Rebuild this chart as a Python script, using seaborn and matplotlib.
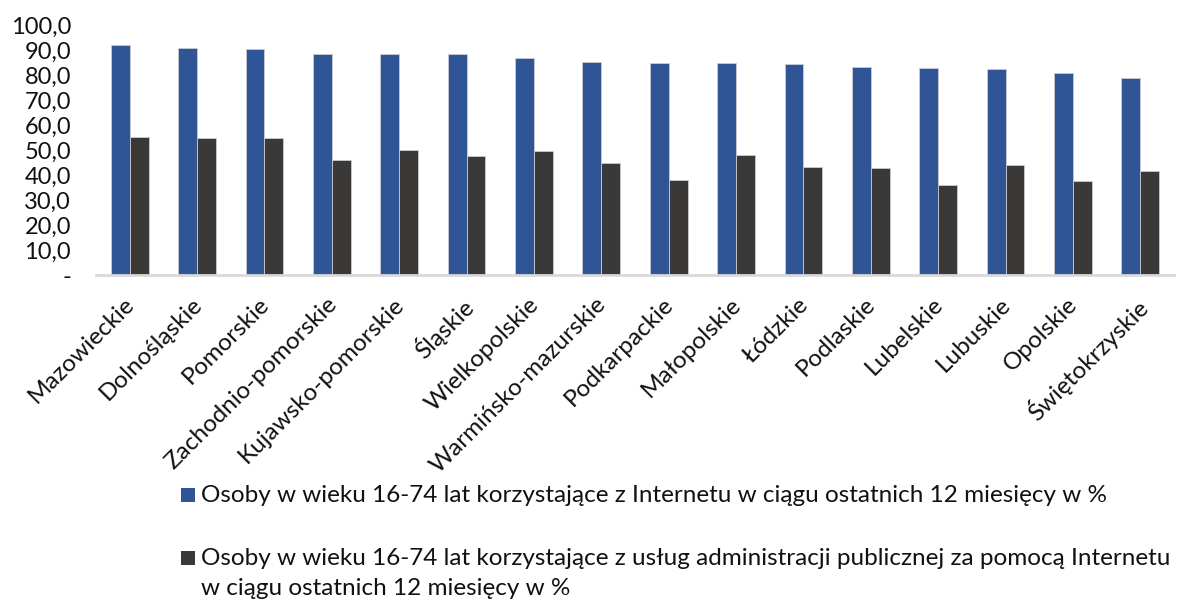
import matplotlib
matplotlib.use("Agg")
import matplotlib.pyplot as plt
from matplotlib.patches import Rectangle
from matplotlib.transforms import ScaledTranslation
import seaborn as sns
import pandas as pd

regions = ["Mazowieckie", "Dolnośląskie", "Pomorskie", "Zachodnio-pomorskie",
           "Kujawsko-pomorskie", "Śląskie", "Wielkopolskie", "Warmińsko-mazurskie",
           "Podkarpackie", "Małopolskie", "Łódzkie", "Podlaskie", "Lubelskie",
           "Lubuskie", "Opolskie", "Świętokrzyskie"]
internet_users = [92.1, 90.9, 90.4, 88.6, 88.5, 88.5, 86.9, 85.2,
                  84.8, 84.8, 84.5, 83.4, 82.9, 82.4, 80.8, 78.7]
egov_users = [55.4, 54.7, 55.0, 45.9, 50.1, 47.7, 49.6, 44.7,
              38.1, 47.9, 43.1, 42.7, 35.9, 43.9, 37.7, 41.5]
series_names = [
    "Osoby w wieku 16-74 lat korzystające z Internetu w ciągu ostatnich 12 miesięcy w %",
    "Osoby w wieku 16-74 lat korzystające z usług administracji publicznej za pomocą Internetu",
]
series_continuation = ["", "w ciągu ostatnich 12 miesięcy w %"]
y_ticks = [0, 10, 20, 30, 40, 50, 60, 70, 80, 90, 100]
y_tick_labels = ["-", "10,0", "20,0", "30,0", "40,0", "50,0", "60,0", "70,0", "80,0", "90,0", "100,0"]
colors = ["#2F5597", "#3B3938"]

df = pd.DataFrame({
    "region": regions * 2,
    "value": internet_users + egov_users,
    "series": [series_names[0]] * len(regions) + [series_names[1]] * len(regions),
})

sns.set_theme(style="white")
plt.rcParams["font.family"] = ["Lato", "DejaVu Sans"]

W, H = 1188, 601
fig = plt.figure(figsize=(W / 100, H / 100), dpi=100)
ax = fig.add_axes([96 / W, 1 - 275 / H, (1174 - 96) / W, (275 - 25) / H])

sns.barplot(data=df, x="region", y="value", hue="series", palette=colors,
            saturation=1, width=0.56, edgecolor="#c9ccd4", linewidth=0.6,
            ax=ax, legend=False)

ax.set_ylim(0, 100)
ax.set_xlim(-0.5, len(regions) - 0.5)
ax.set_yticks(y_ticks)
ax.set_yticklabels(y_tick_labels, fontsize=17, color="#111111")
ax.tick_params(axis="y", length=0, pad=18)
ax.set_xticks(range(len(regions)))
ax.set_xticklabels(regions, rotation=45, ha="right", va="top",
                   rotation_mode="anchor", fontsize=17.5, color="#111111")
ax.tick_params(axis="x", length=0, pad=4)
shift = ScaledTranslation(-6 / 100, -13 / 100, fig.dpi_scale_trans)
for lbl in ax.get_xticklabels():
    lbl.set_transform(lbl.get_transform() + shift)
ax.set_xlabel("")
ax.set_ylabel("")
for side in ["top", "right", "left"]:
    ax.spines[side].set_visible(False)
ax.spines["bottom"].set_color("#d9d9d9")
ax.spines["bottom"].set_linewidth(2)

# legend below the chart: colour square + text, second entry wraps onto a second line
baselines = [502, 565]
line_gap = 30
for i, base in enumerate(baselines):
    fig.patches.append(Rectangle((181 / W, 1 - base / H), 14 / W, 14 / H,
                                 transform=fig.transFigure, facecolor=colors[i],
                                 edgecolor="none"))
    fig.text(201 / W, 1 - base / H, series_names[i], fontsize=17.5, color="#111111",
             va="baseline", ha="left")
    if series_continuation[i]:
        fig.text(201 / W, 1 - (base + line_gap) / H, series_continuation[i],
                 fontsize=17.5, color="#111111", va="baseline", ha="left")

fig.savefig("out.png", dpi=100)
